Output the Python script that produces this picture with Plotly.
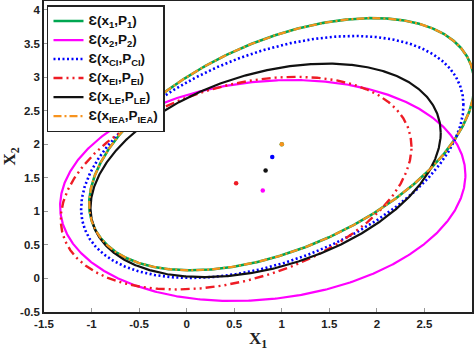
import numpy as np
import plotly.graph_objects as go

# Ellipse data: centers and shape matrices P = [[p11, p12], [p12, p22]]
names = ["Ɛ(x<sub>1</sub>,P<sub>1</sub>)", "Ɛ(x<sub>2</sub>,P<sub>2</sub>)",
         "Ɛ(x<sub>CI</sub>,P<sub>CI</sub>)", "Ɛ(x<sub>EI</sub>,P<sub>EI</sub>)",
         "Ɛ(x<sub>LE</sub>,P<sub>LE</sub>)", "Ɛ(x<sub>IEA</sub>,P<sub>IEA</sub>)"]
center_x = [1.00, 0.80, 0.90, 0.52, 0.83, 1.00]
center_y = [2.00, 1.31, 1.81, 1.42, 1.61, 2.00]
p11 = [4.10, 4.54, 4.04, 3.40, 3.39, 4.10]
p12 = [1.80, 0.50, 1.55, 1.00, 1.03, 1.80]
p22 = [3.53, 2.71, 3.25, 2.51, 2.53, 3.53]

colors = ["#00a651", "#ff00ff", "#0000ff", "#ee1c25", "#111111", "#f7931e"]
dashes = ["solid", "solid", "2px,2.5px", "9px,4px,2px,4px,2px,4px", "solid", "8px,3px,2px,3px"]
widths = [2.6, 2.2, 2.6, 2.4, 2.2, 2.2]

x_ticks = [-1.5, -1, -0.5, 0, 0.5, 1, 1.5, 2, 2.5, 3]
y_ticks = [-0.5, 0, 0.5, 1, 1.5, 2, 2.5, 3, 3.5, 4]

t = np.linspace(0, 2 * np.pi, 721)
fig = go.Figure()
for i in range(6):
    P = np.array([[p11[i], p12[i]], [p12[i], p22[i]]])
    L = np.linalg.cholesky(P)
    pts = L @ np.vstack([np.cos(t), np.sin(t)])
    fig.add_trace(go.Scatter(
        x=center_x[i] + pts[0], y=center_y[i] + pts[1], mode="lines",
        name="<span style='font-size:13.5px'>" + names[i] + "</span>",
        line=dict(color=colors[i], width=widths[i], dash=dashes[i]),
    ))
for i in range(6):
    fig.add_trace(go.Scatter(
        x=[center_x[i]], y=[center_y[i]], mode="markers", showlegend=False,
        marker=dict(color=colors[i], size=4.5),
    ))

axis_common = dict(
    showline=True, linecolor="#222", linewidth=1.5, mirror=True,
    ticks="inside", ticklen=4, tickcolor="#999", tickwidth=1,
    showgrid=False, zeroline=False, automargin=False,
    tickfont=dict(family="Liberation Sans, Arial", size=11.5, color="#222", weight="bold"),
)
fig.update_xaxes(range=[-1.5, 3.0], tickvals=x_ticks,
                 ticktext=[f"{v:g}" for v in x_ticks],
                 title=dict(text="X<sub>1</sub>", standoff=15,
                            font=dict(family="Liberation Serif, Times New Roman", size=17, color="#222", weight="bold")),
                 **axis_common)
fig.update_yaxes(range=[-0.5, 4.134], tickvals=y_ticks,
                 ticktext=[f"{v:g}" for v in y_ticks],
                 title=dict(text="X<sub>2</sub>", standoff=10,
                            font=dict(family="Liberation Serif, Times New Roman", size=17, color="#222", weight="bold")),
                 **axis_common)
fig.update_layout(
    width=474, height=351,
    margin=dict(l=44, r=2, t=1, b=39, autoexpand=False),
    plot_bgcolor="white", paper_bgcolor="white",
    legend=dict(x=0.007, y=0.987, xanchor="left", yanchor="top",
                bgcolor="white", bordercolor="#222", borderwidth=1.5,
                font=dict(family="Liberation Sans, Arial", size=10, color="#111", weight="bold"),
                tracegroupgap=0, itemwidth=30),
    showlegend=True,
)
fig.write_html("out.html")
